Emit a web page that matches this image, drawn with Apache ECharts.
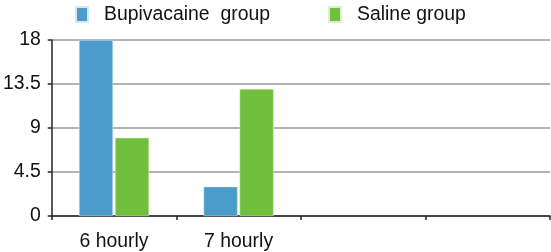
<!DOCTYPE html>
<html><head><meta charset="utf-8">
<script src="https://cdn.jsdelivr.net/npm/echarts@6/dist/echarts.min.js"></script>
<style>html,body{margin:0;padding:0;background:#fff}#c{width:551px;height:252px}</style>
</head><body><div id="c"></div>
<script>
var categories = ['6 hourly', '7 hourly', '', ''];
var bupivacaine = [18, 3, null, null];
var saline = [8, 13, null, null];
var yTicks = [0, 4.5, 9, 13.5, 18];

var chart = echarts.init(document.getElementById('c'), null, {renderer: 'canvas'});
chart.setOption({
  animation: false,
  textStyle: {fontFamily: 'Liberation Sans, Arial, sans-serif'},
  legend: {
    top: 5, left: 75, itemGap: 58, itemWidth: 12, itemHeight: 15, padding: 0,
    textStyle: {fontSize: 19.4, color: '#111', fontFamily: 'Liberation Sans', padding: [0, 0, 0, 11]},
    data: [{name: 'Bupivacaine  group', icon: 'rect'}, {name: 'Saline group', icon: 'rect'}]
  },
  grid: {left: 49, right: 1, top: 40, bottom: 36, containLabel: false},
  xAxis: {
    type: 'category', data: categories,
    axisLine: {lineStyle: {color: '#222', width: 1.5}},
    axisTick: {show: true, length: 4, lineStyle: {color: '#222', width: 1.5}},
    axisLabel: {fontSize: 19.4, color: '#111', margin: 16, fontFamily: 'Liberation Sans'}
  },
  yAxis: {
    type: 'value', min: yTicks[0], max: yTicks[yTicks.length - 1], interval: 4.5,
    axisLine: {show: true, lineStyle: {color: '#222', width: 1.5}},
    axisTick: {show: true, length: 4, lineStyle: {color: '#222', width: 1.5}},
    axisLabel: {fontSize: 19.4, color: '#111', margin: 11, fontFamily: 'Liberation Sans'},
    splitLine: {lineStyle: {color: '#9a9a9a', width: 1.5}}
  },
  series: [
    {name: 'Bupivacaine  group', type: 'bar', data: bupivacaine, barWidth: 34, barGap: '6%',
     itemStyle: {color: '#4b9bcb', borderColor: '#d6e9f3', borderWidth: 0.5}},
    {name: 'Saline group', type: 'bar', data: saline, barWidth: 34, barGap: '6%',
     itemStyle: {color: '#71bf3c', borderColor: '#dcefcf', borderWidth: 0.5}}
  ]
});
</script></body></html>
